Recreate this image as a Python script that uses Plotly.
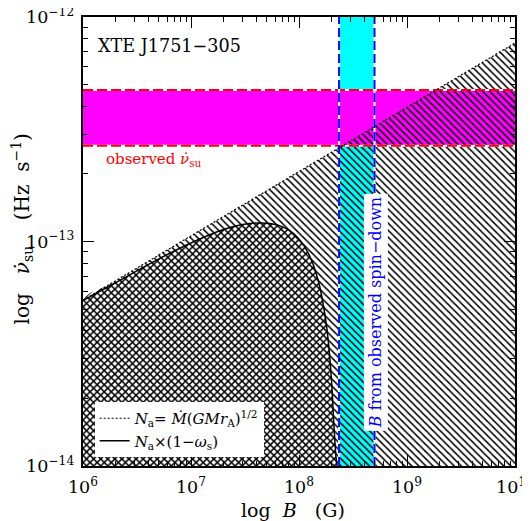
import plotly.graph_objects as go

# ---------------- data ----------------
B_range = [1e6, 1e10]                 # x-axis extent (G)
nu_range = [1e-14, 1e-12]             # y-axis extent (Hz s^-1)

# observed spin-up rate band
nu_obs = [2.67e-13, 4.73e-13]
# B from observed spin-down band
B_spin = [2.35e8, 5.0e8]

# N_a = Mdot (G M r_A)^(1/2)  (straight line in log-log)
B_line = [1.0e6, 1.0e10]
nu_line = [5.48e-14, 7.66e-13]

# N_a x (1 - omega_s)
B_curve = [1.0e6, 2.0e6, 5.0e6, 1.0e7, 2.0e7, 3.0e7, 4.5e7, 6.5e7, 9.0e7,
           1.2e8, 1.5e8, 1.8e8, 2.0e8, 2.1e8, 2.2e8, 2.25e8]
nu_curve = [5.45e-14, 6.55e-14, 8.35e-14, 9.85e-14, 1.13e-13, 1.19e-13, 1.21e-13,
            1.18e-13, 1.08e-13, 9.0e-14, 6.75e-14, 4.2e-14, 2.4e-14, 1.55e-14,
            1.1e-14, 1.0e-14]

FONT = "DejaVu Serif"
NB = "\u00a0"

fig = go.Figure()

# cyan band (B from spin-down)
fig.add_trace(go.Scatter(
    x=[B_spin[0], B_spin[1], B_spin[1], B_spin[0], B_spin[0]],
    y=[nu_range[0], nu_range[0], nu_range[1], nu_range[1], nu_range[0]],
    fill="toself", fillcolor="#00FFFF", mode="none", showlegend=False, hoverinfo="skip"))

# magenta band (observed spin-up)
fig.add_trace(go.Scatter(
    x=[B_range[0], B_range[1], B_range[1], B_range[0], B_range[0]],
    y=[nu_obs[0], nu_obs[0], nu_obs[1], nu_obs[1], nu_obs[0]],
    fill="toself", fillcolor="#FF00FF", mode="none", showlegend=False, hoverinfo="skip"))

# hatched region under the N_a line
fig.add_trace(go.Scatter(
    x=B_line + [B_line[-1], B_line[0], B_line[0]],
    y=nu_line + [nu_range[0], nu_range[0], nu_line[0]],
    fill="toself", mode="none", fillcolor="rgba(0,0,0,0)",
    fillpattern=dict(shape="\\", size=5, solidity=0.3, fgcolor="black", fgopacity=1,
                     bgcolor="rgba(0,0,0,0)"),
    showlegend=False, hoverinfo="skip"))

# cross-hatched region under the torque curve
fig.add_trace(go.Scatter(
    x=B_curve + [B_curve[-1], B_curve[0], B_curve[0]],
    y=nu_curve + [nu_range[0], nu_range[0], nu_curve[0]],
    fill="toself", mode="none", fillcolor="rgba(0,0,0,0)",
    line_shape="spline",
    fillpattern=dict(shape="/", size=5, solidity=0.3, fgcolor="black", fgopacity=1,
                     bgcolor="rgba(0,0,0,0)"),
    showlegend=False, hoverinfo="skip"))

# borders of the magenta band
for v in nu_obs:
    fig.add_trace(go.Scatter(x=B_range, y=[v, v], mode="lines",
                             line=dict(color="white", width=2), showlegend=False, hoverinfo="skip"))
    fig.add_trace(go.Scatter(x=B_range, y=[v, v], mode="lines",
                             line=dict(color="#FF0000", width=2, dash="10px,4px"),
                             showlegend=False, hoverinfo="skip"))

# borders of the cyan band
for b in B_spin:
    fig.add_trace(go.Scatter(x=[b, b], y=nu_range, mode="lines",
                             line=dict(color="white", width=2), showlegend=False, hoverinfo="skip"))
    fig.add_trace(go.Scatter(x=[b, b], y=nu_range, mode="lines",
                             line=dict(color="#0000FF", width=2, dash="9px,4px"),
                             showlegend=False, hoverinfo="skip"))

# lines
fig.add_trace(go.Scatter(
    x=B_line, y=nu_line, mode="lines",
    line=dict(color="black", width=1.2, dash="2px,2px"),
    name="<i>N</i><sub>a</sub>=" + NB + "<i>Ṁ</i>(<i>GMr</i><sub>A</sub>)<sup>1/2</sup>"))
fig.add_trace(go.Scatter(
    x=B_curve, y=nu_curve, mode="lines", line_shape="spline",
    line=dict(color="black", width=1.5),
    name="<i>N</i><sub>a</sub>×(1−<i>ω</i><sub>s</sub>)"))

# text
fig.add_annotation(text="XTE J1751−305", xref="paper", yref="paper", x=0.03, y=0.935,
                   xanchor="left", yanchor="middle", showarrow=False,
                   font=dict(family=FONT, size=17.6, color="black"))
fig.add_annotation(text="observed <i>ν̇</i><sub>su</sub>", xref="paper", yref="paper",
                   x=0.048, y=0.683, xanchor="left", yanchor="middle", showarrow=False,
                   font=dict(family=FONT, size=15, color="#FF0000"))
fig.add_annotation(text="<i>B</i> from observed spin−down", xref="paper", yref="paper",
                   x=0.708, y=0.343, textangle=-90, showarrow=False,
                   bgcolor="white", borderpad=2,
                   font=dict(family=FONT, size=16, color="#0000FF"))

# axis titles
fig.add_annotation(text="log" + NB * 2 + "<i>B</i>" + NB * 3 + "(G)", xref="paper", yref="paper",
                   x=0.485, y=-0.098, xanchor="center", yanchor="middle", showarrow=False,
                   font=dict(family=FONT, size=19, color="black"))
fig.add_annotation(text="log" + NB * 3 + "<i>ν̇</i><sub>su</sub>" + NB * 4
                   + "(Hz" + NB * 2 + "s<sup>−1</sup>)",
                   xref="paper", yref="paper",
                   x=-0.14, y=0.528, xanchor="center", yanchor="middle", textangle=-90,
                   showarrow=False, font=dict(family=FONT, size=20, color="black"))

axis_common = dict(
    type="log", dtick=1, exponentformat="power", showexponent="all",
    ticks="inside", ticklen=11, tickwidth=1, tickcolor="black",
    mirror="allticks", showline=True, linewidth=2, linecolor="black",
    showgrid=False, zeroline=False, automargin=False, ticklabeloverflow="allow",
    minor=dict(ticks="inside", ticklen=5, tickwidth=1, tickcolor="black",
               dtick="D1", showgrid=False),
    tickfont=dict(family=FONT, size=14, color="black"),
)

fig.update_xaxes(range=[6, 10], ticklabelstandoff=5, **axis_common)
fig.update_yaxes(range=[-14, -12], ticklabelstandoff=4, **axis_common)

# the page body adds an 8 px offset; size the figure so the plot area lands
# where the reference has it
fig.update_layout(
    width=522, height=513,
    margin=dict(l=75, r=15, t=9, b=55),
    plot_bgcolor="white", paper_bgcolor="white",
    font=dict(family=FONT, color="black"),
    legend=dict(x=0.027, y=0.02, xanchor="left", yanchor="bottom",
                bgcolor="white", itemwidth=30, tracegroupgap=0,
                font=dict(family=FONT, size=15, color="black")),
)

fig.write_html("out.html")
